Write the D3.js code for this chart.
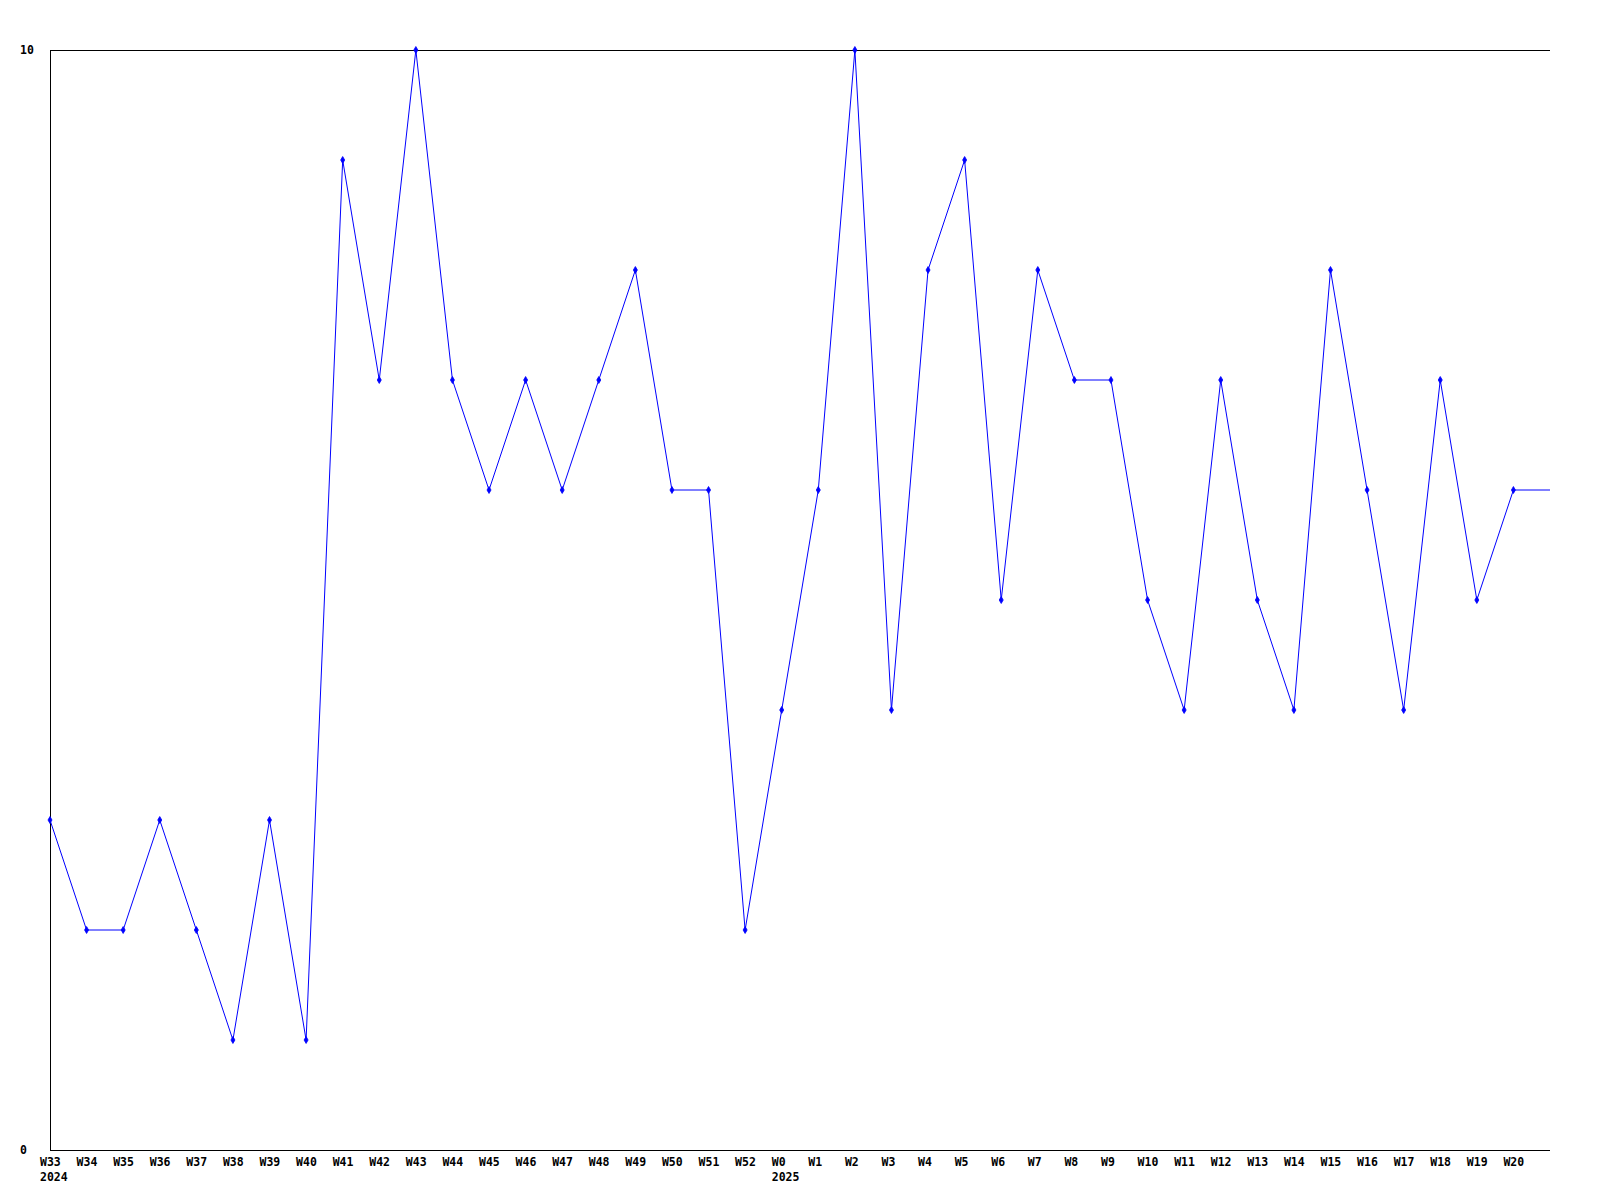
<!DOCTYPE html>
<html>
<head>
<meta charset="utf-8">
<script src="https://d3js.org/d3.v7.min.js"></script>
<style>
html,body{margin:0;padding:0;background:#fff;}
svg{display:block;}
text{font-family:"DejaVu Sans Mono",monospace;font-weight:bold;font-size:11.5px;fill:#000;}
</style>
</head>
<body>
<script>
const weeks = ["W33","W34","W35","W36","W37","W38","W39","W40","W41","W42","W43","W44","W45","W46","W47","W48","W49","W50","W51","W52",
  "W0","W1","W2","W3","W4","W5","W6","W7","W8","W9","W10","W11","W12","W13","W14","W15","W16","W17","W18","W19","W20"];
const yearLabels = [{week:"W33", year:"2024"}, {week:"W0", year:"2025"}];
const values = [3,2,2,3,2,1,3,1,9,7,10,7,6,7,6,7,8,6,6,2,
  4,6,10,4,8,9,5,8,7,7,5,4,7,5,4,8,6,4,7,5,6];
const yTicks = [0,10];

(function () {
const W = 1600, H = 1200;
const mLeft = 50, mRight = 1550, mTop = 50, mBottom = 1150;

const svg = d3.select("body").append("svg").attr("width", W).attr("height", H);

const x = d3.scaleLinear().domain([0, weeks.length]).range([mLeft, mRight]);
const y = d3.scaleLinear().domain([0, 10]).range([mBottom, mTop]);

// axes lines
svg.append("line").attr("x1", mLeft + 0.5).attr("x2", mLeft + 0.5).attr("y1", mTop).attr("y2", mBottom)
  .attr("stroke", "#000");
svg.append("line").attr("x1", mLeft).attr("x2", mRight).attr("y1", mBottom + 0.5).attr("y2", mBottom + 0.5)
  .attr("stroke", "#000");
svg.append("line").attr("x1", mLeft).attr("x2", mRight).attr("y1", mTop + 0.5).attr("y2", mTop + 0.5)
  .attr("stroke", "#000");

// y tick labels
svg.selectAll("text.ytick").data(yTicks).enter().append("text")
  .attr("class", "ytick")
  .attr("x", 20).attr("y", d => y(d) + 4)
  .text(d => d);

// x labels
svg.selectAll("text.xtick").data(weeks).enter().append("text")
  .attr("class", "xtick")
  .attr("x", (d, i) => x(i) - 10).attr("y", 1166)
  .text(d => d);

svg.selectAll("text.year").data(yearLabels).enter().append("text")
  .attr("class", "year")
  .attr("x", d => x(weeks.indexOf(d.week)) - 10).attr("y", 1181)
  .text(d => d.year);

// line (last value extends to right edge)
const pts = values.map((v, i) => [x(i), y(v)]);
pts.push([x(weeks.length), y(values[values.length - 1])]);
svg.append("path")
  .attr("d", d3.line()(pts))
  .attr("fill", "none").attr("stroke", "#0000ff").attr("stroke-width", 1);

// markers
const diamond = d3.symbol().type(d3.symbolDiamond).size(14);
svg.selectAll("path.mk").data(values).enter().append("path")
  .attr("class", "mk")
  .attr("transform", (d, i) => `translate(${x(i)},${y(d)})`)
  .attr("d", diamond())
  .attr("fill", "#0000ff").attr("stroke", "#0000ff").attr("stroke-width", 0.8);
})();
</script>
</body>
</html>
